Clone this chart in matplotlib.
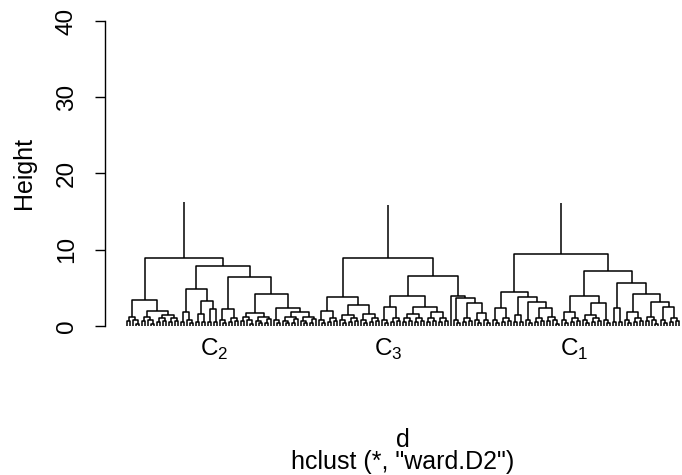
import matplotlib
matplotlib.use("Agg")
import matplotlib.pyplot as plt
from matplotlib.collections import LineCollection

# -------------------------------
# DATA (merge heights)
# node = [height, left, right], int n = small twig of n leaves, 1 = leaf
# -------------------------------
TWIGS = {
    2: [0.5, 1, 1],
    3: [0.8, 1, [0.4, 1, 1]],
    4: [1.0, [0.5, 1, 1], [0.6, 1, 1]],
    5: [1.2, [0.6, 1, 1], [0.8, 1, [0.3, 1, 1]]],
    6: [1.2, [0.7, 1, [0.4, 1, 1]], [0.9, [0.4, 1, 1], 1]],
}

cluster_c2 = [8.9,
              [3.4, 5, [2.0, 5, [1.5, 4, 4]]],
              [7.9,
               [4.8, [1.9, 2, 3], [3.3, [1.6, 2, 2], [2.2, 2, 2]]],
               [6.4,
                [2.2, 3, 4],
                [4.2, [1.7, 5, 6], [2.3, 3, [1.8, 6, 6]]]]]]

cluster_c3 = [8.9,
              [3.8, [2.0, 3, 4], [2.7, [1.4, 3, 4], [1.6, 3, 4]]],
              [6.5,
               [3.9, [2.5, 3, 4], [2.5, [1.6, 4, 4], [1.8, 4, 4]]],
               [3.9, 1, [3.7, 3, [3.0, 4, [1.75, 3, 3]]]]]]

cluster_c1 = [9.5,
              [4.5, [2.3, 3, 4], [3.8, [1.5, 2, 2], [3.2, 3, [2.3, 4, 5]]]],
              [7.2,
               [3.9, [1.9, 3, 4], [3.0, [1.4, 3, 4], 3]],
               [5.6, [2.4, 2, 2], [4.2, [1.8, 3, 4], [3.2, 5, [2.5, 3, 4]]]]]]

clusters = [cluster_c2, cluster_c3, cluster_c1]
root_tops = [16.2, 15.9, 16.1]
cluster_labels = [r"$\mathrm{C}_2$", r"$\mathrm{C}_3$", r"$\mathrm{C}_1$"]
label_leaf = [30, 88, 150]

y_ticks = [0, 10, 20, 30, 40]

# -------------------------------
# LAYOUT
# -------------------------------
def layout(node, counter, segs):
    if node == 1:
        counter[0] += 1
        return counter[0], 0.0
    if isinstance(node, int):
        node = TWIGS[node]
    h, left, right = node
    xl, hl = layout(left, counter, segs)
    xr, hr = layout(right, counter, segs)
    segs.append([(xl, hl), (xl, h), (xr, h), (xr, hr)])
    return (xl + xr) / 2, h


segs = []
counter = [0]
for tree, top in zip(clusters, root_tops):
    x, h = layout(tree, counter, segs)
    segs.append([(x, h), (x, top)])
n_leaves = counter[0]

# -------------------------------
# PLOT
# -------------------------------
plt.rcParams['font.family'] = ['Liberation Sans', 'DejaVu Sans']
plt.rcParams['mathtext.fontset'] = 'custom'
plt.rcParams['mathtext.rm'] = 'Liberation Sans'

fig = plt.figure(figsize=(6.82, 4.75), dpi=100)
ax = fig.add_axes([105 / 682, 0.288, 596 / 682, 0.6935])

ax.add_collection(LineCollection(segs, colors="black", linewidths=1.1))

ext = 0.04 * (n_leaves - 1)
ax.set_xlim(1 - ext, n_leaves + ext)
ax.set_ylim(-1.6, 41.6)

for sp in ["top", "right", "bottom"]:
    ax.spines[sp].set_visible(False)
ax.spines["left"].set_bounds(0, 40)
ax.spines["left"].set_linewidth(1.0)
ax.set_xticks([])
ax.set_yticks(y_ticks)
ax.set_yticklabels([str(t) for t in y_ticks], rotation=90, va="center")
ax.tick_params(axis="y", length=7.5, width=1.0, pad=12, labelsize=17.5)

for lab, pos in zip(cluster_labels, label_leaf):
    ax.text(pos, -1.4, lab, ha="center", va="top", fontsize=17.5, clip_on=False)

fig.text(24 / 682, 0.635, "Height", rotation=90, ha="center", va="center", fontsize=18)
fig.text(403 / 682, 28 / 475, "d", ha="center", va="baseline", fontsize=18)
fig.text(403 / 682, 6 / 475, 'hclust (*, "ward.D2")', ha="center", va="baseline", fontsize=18)

fig.savefig("out.png", dpi=100)
